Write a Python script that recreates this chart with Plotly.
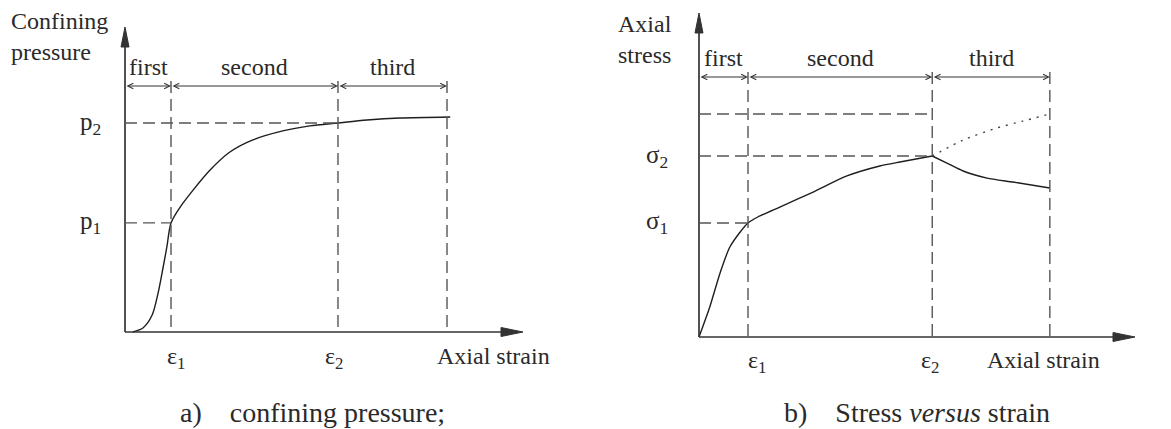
import plotly.graph_objects as go

W, H = 1171, 429

# ---------------- panel a) confining pressure ----------------
a_strain = [0.17, 0.39, 0.59, 0.72, 0.83, 0.91, 1.00, 1.20, 1.48, 1.85, 2.28,
            2.78, 3.43, 4.02, 4.63, 5.26, 5.98, 7.07]
a_pressure = [0.0, 0.019, 0.081, 0.187, 0.311, 0.407, 0.522, 0.598, 0.679, 0.775,
              0.861, 0.919, 0.962, 0.986, 1.000, 1.014, 1.024, 1.029]
a_eps = [1.0, 4.63, 7.0]          # eps1, eps2, end of third stage
a_levels = [0.522, 1.0]           # p1, p2
a_level_labels = ["p<sub>1</sub>", "p<sub>2</sub>"]

# ---------------- panel b) stress versus strain ----------------
b_strain_rise = [0.0, 0.22, 0.43, 0.63, 0.84, 1.00, 1.20, 1.65, 2.33, 3.02, 3.69, 4.10, 4.76]
b_stress_rise = [0.0, 0.166, 0.354, 0.497, 0.580, 0.630, 0.663, 0.718, 0.801, 0.890, 0.945, 0.967, 1.000]
b_strain_soft = [4.76, 5.06, 5.39, 5.88, 6.41, 7.16]
b_stress_soft = [1.000, 0.961, 0.917, 0.878, 0.856, 0.823]
b_strain_hard = [4.76, 5.39, 6.08, 6.61, 7.16]
b_stress_hard = [1.000, 1.088, 1.155, 1.193, 1.232]
b_eps = [1.0, 4.76, 7.16]
b_levels = [0.630, 1.0, 1.232]    # sigma1, sigma2, upper level
b_level_labels = ["σ<sub>1</sub>", "σ<sub>2</sub>", ""]

stage_names = ["first", "second", "third"]
eps_labels = ["ε<sub>1</sub>", "ε<sub>2</sub>"]

# ---------------- layout constants (pixels) ----------------
FONT = "Times New Roman, Liberation Serif, serif"
TXT = "#2a2a2a"
AX = "#333333"
DASH = "#555555"
CURVE = "#1e1e1e"

# panel geometry: origin pixel and pixels per unit
PA = dict(ox=125, oy=332, sx=46.0, sy=209.0, xtip=523, ytip=27, arrow_row=86)
PB = dict(ox=699, oy=337, sx=49.0, sy=181.0, xtip=1135, ytip=13, arrow_row=77)


def xd(p, px):
    return (px - p["ox"]) / p["sx"]


def yd(p, py):
    return (p["oy"] - py) / p["sy"]


fig = go.Figure()

# curves
fig.add_trace(go.Scatter(x=a_strain, y=a_pressure, mode="lines", xaxis="x", yaxis="y",
                         line=dict(color=CURVE, width=1.4, shape="spline", smoothing=0.8),
                         hoverinfo="skip"))
fig.add_trace(go.Scatter(x=b_strain_rise, y=b_stress_rise, mode="lines", xaxis="x2", yaxis="y2",
                         line=dict(color=CURVE, width=1.4, shape="spline", smoothing=0.6),
                         hoverinfo="skip"))
fig.add_trace(go.Scatter(x=b_strain_soft, y=b_stress_soft, mode="lines", xaxis="x2", yaxis="y2",
                         line=dict(color=CURVE, width=1.4, shape="spline", smoothing=0.6),
                         hoverinfo="skip"))
fig.add_trace(go.Scatter(x=b_strain_hard, y=b_stress_hard, mode="lines", xaxis="x2", yaxis="y2",
                         line=dict(color="#444444", width=1.4, dash="2px,6px", shape="spline", smoothing=0.6),
                         hoverinfo="skip"))

shapes = []
annotations = []


def panel(p, xr, yr, eps, levels, level_labels, level_label_x, level_ends, ylabel, ylabel_pos,
          eps_shifts, eps_yshift, xlabel_x, stage_yshift):
    row = yd(p, p["arrow_row"])
    # main axes
    shapes.append(dict(type="line", xref=xr, yref=yr, x0=0, y0=0, x1=xd(p, p["xtip"]) - 0.2, y1=0,
                       line=dict(color=AX, width=1.7)))
    shapes.append(dict(type="line", xref=xr, yref=yr, x0=0, y0=0, x1=0, y1=yd(p, p["ytip"]) - 0.05,
                       line=dict(color=AX, width=1.7)))
    # arrowheads (pixel sized)
    shapes.append(dict(type="path", xref=xr, yref=yr, xsizemode="pixel", ysizemode="pixel",
                       xanchor=xd(p, p["xtip"]), yanchor=0,
                       path="M0,0 L-22,-4.5 L-22,4.5 Z", fillcolor=AX, line=dict(color=AX, width=1)))
    shapes.append(dict(type="path", xref=xr, yref=yr, xsizemode="pixel", ysizemode="pixel",
                       xanchor=0, yanchor=yd(p, p["ytip"]),
                       path="M0,0 L-4,-20 L4,-20 Z", fillcolor=AX, line=dict(color=AX, width=1)))
    # vertical dashed lines at stage boundaries
    top = yd(p, p["arrow_row"] - 5)
    for e in eps:
        shapes.append(dict(type="line", xref=xr, yref=yr, x0=e, y0=top, x1=e, y1=0,
                           line=dict(color=DASH, width=1.4, dash="12px,6px")))
    # horizontal dashed lines at levels
    for lv, end in zip(levels, level_ends):
        shapes.append(dict(type="line", xref=xr, yref=yr, x0=0, y0=lv, x1=end, y1=lv,
                           line=dict(color=DASH, width=1.4, dash="12px,6px")))
    # stage dimension arrows
    bounds = [0] + list(eps)
    for i, name in enumerate(stage_names):
        annotations.append(dict(xref=xr, yref=yr, axref=xr, ayref=yr, x=bounds[i + 1], y=row,
                                ax=bounds[i], ay=row, text="", showarrow=True,
                                arrowside="end+start", arrowhead=5, startarrowhead=5,
                                arrowsize=1.1, startarrowsize=1.1, arrowwidth=1,
                                arrowcolor=AX, standoff=0, startstandoff=0))
        annotations.append(dict(xref=xr, yref=yr, x=(bounds[i] + bounds[i + 1]) / 2, y=row,
                                yanchor="bottom", yshift=stage_yshift, text=name, showarrow=False,
                                font=dict(family=FONT, size=24, color=TXT)))
    # level labels
    for lv, lab in zip(levels, level_labels):
        if lab:
            annotations.append(dict(xref="paper", yref=yr, x=level_label_x / W, y=lv, text=lab,
                                    showarrow=False, xanchor="center", yanchor="middle",
                                    font=dict(family=FONT, size=25, color=TXT)))
    # strain labels
    for e, lab, sh in zip(eps[:2], eps_labels, eps_shifts):
        annotations.append(dict(xref=xr, yref=yr, x=e, y=0, text=lab, showarrow=False,
                                yanchor="top", yshift=eps_yshift, xshift=sh,
                                font=dict(family=FONT, size=24, color=TXT)))
    annotations.append(dict(xref="paper", yref=yr, x=xlabel_x / W, y=0, text="Axial strain",
                            showarrow=False, yanchor="top", yshift=eps_yshift,
                            font=dict(family=FONT, size=24, color=TXT)))
    # y label
    lx, ly, anchor = ylabel_pos
    annotations.append(dict(xref="paper", yref="paper", x=lx / W, y=1 - ly / H, text=ylabel,
                            showarrow=False, xanchor=anchor, yanchor="top", align=anchor,
                            font=dict(family=FONT, size=24, color=TXT)))


panel(PA, "x", "y", a_eps, a_levels, a_level_labels, 90, [a_eps[0], a_eps[1]],
      "Confining<br>pressure", (9, 6, "left"), [5, -4], -9, 493, 4)
panel(PB, "x2", "y2", b_eps, b_levels, b_level_labels, 657, [b_eps[0], b_eps[1], b_eps[1]],
      "Axial<br>stress", (645, 9, "center"), [9, -2], -8, 1102, 4)

# captions
annotations.append(dict(xref="paper", yref="paper", x=312 / W, y=1 - 412 / H,
                        text="a)\u00a0\u00a0\u00a0\u00a0confining pressure;", showarrow=False,
                        xanchor="center", yanchor="middle",
                        font=dict(family=FONT, size=28, color=TXT)))
annotations.append(dict(xref="paper", yref="paper", x=917 / W, y=1 - 412 / H,
                        text="b)\u00a0\u00a0\u00a0\u00a0Stress <i>versus</i> strain", showarrow=False,
                        xanchor="center", yanchor="middle",
                        font=dict(family=FONT, size=28, color=TXT)))


def axis_range_x(p):
    return [xd(p, 0), xd(p, W)]


def axis_range_y(p):
    return [yd(p, H), yd(p, 0)]


hidden = dict(visible=False, showgrid=False, zeroline=False, fixedrange=True)

fig.update_layout(
    width=W, height=H,
    margin=dict(l=0, r=0, t=0, b=0),
    paper_bgcolor="white", plot_bgcolor="rgba(0,0,0,0)",
    showlegend=False,
    font=dict(family=FONT),
    xaxis=dict(domain=[0, 1], range=axis_range_x(PA), anchor="y", **hidden),
    yaxis=dict(domain=[0, 1], range=axis_range_y(PA), anchor="x", **hidden),
    xaxis2=dict(domain=[0, 1], range=axis_range_x(PB), anchor="y2", **hidden),
    yaxis2=dict(domain=[0, 1], range=axis_range_y(PB), anchor="x2", **hidden),
    shapes=shapes,
    annotations=annotations,
)

fig.write_html("out.html")
